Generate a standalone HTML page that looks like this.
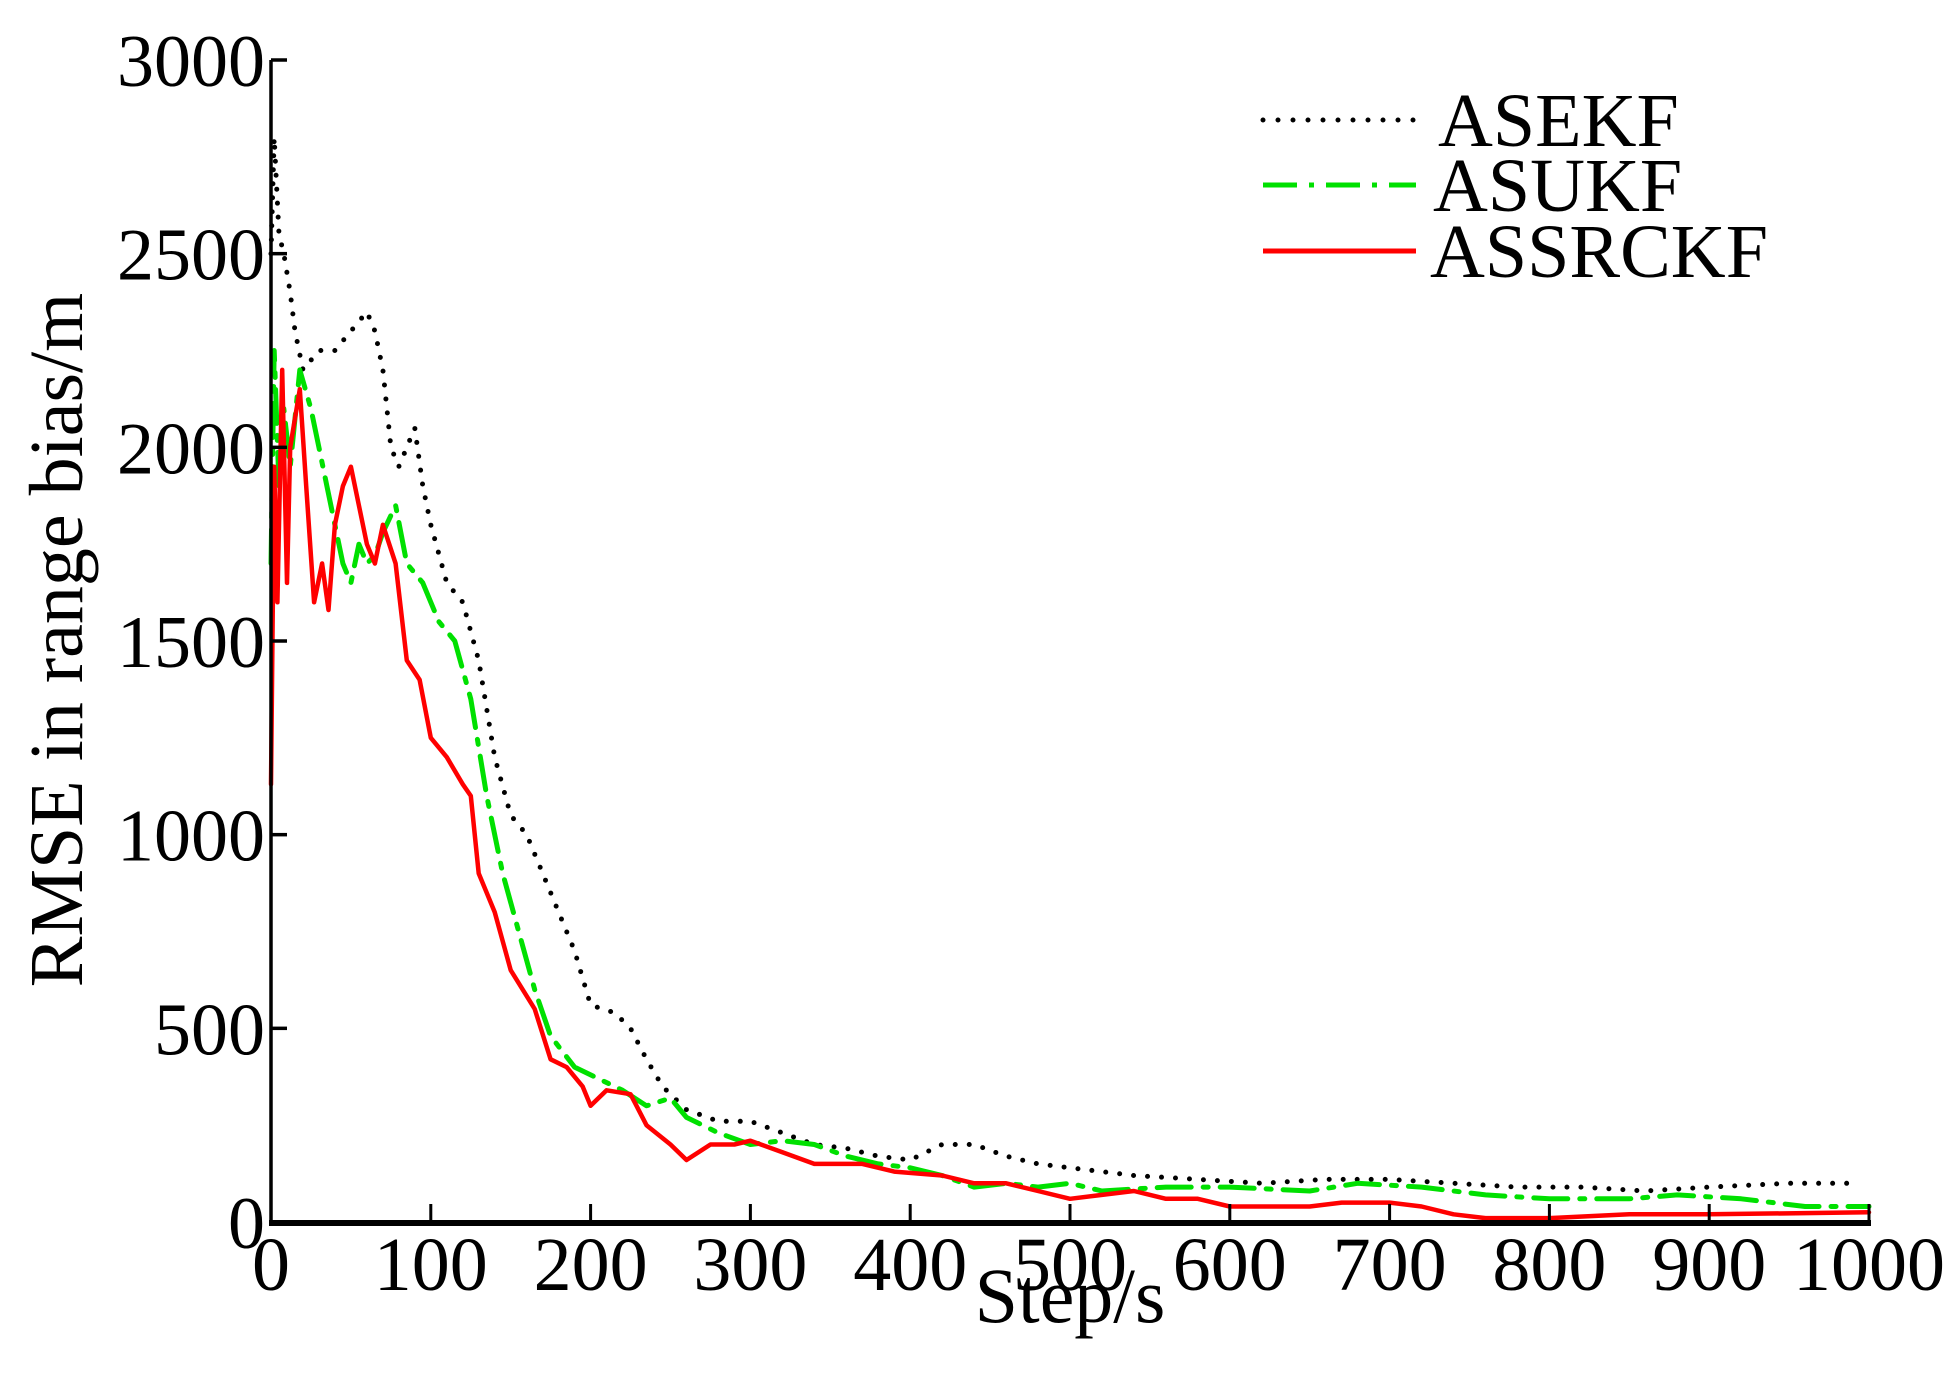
<!DOCTYPE html>
<html><head><meta charset="utf-8"><style>
html,body{margin:0;padding:0;background:#fff;}
svg{display:block;font-family:"Liberation Serif",serif;}
</style></head><body>
<svg id="chart" width="1948" height="1376" viewBox="0 0 1948 1376" xmlns="http://www.w3.org/2000/svg">
<g id="series"></g>
<g id="axes"></g>
<text transform="translate(82,640) rotate(-90)" text-anchor="middle" font-size="76">RMSE in range bias/m</text>
<text x="1070" y="1322" text-anchor="middle" font-size="78">Step/s</text>
<g>
<line x1="1263" y1="120" x2="1416" y2="120" stroke="#000" stroke-width="5" stroke-linecap="round" stroke-dasharray="0 15"/>
<text x="1438" y="146" font-size="76">ASEKF</text>
<line x1="1263" y1="185" x2="1416" y2="185" stroke="#00e000" stroke-width="5" stroke-dasharray="34 12 5 12"/>
<text x="1433" y="211" font-size="76">ASUKF</text>
<line x1="1263" y1="251" x2="1416" y2="251" stroke="#ff0000" stroke-width="5"/>
<text x="1430" y="277" font-size="76">ASSRCKF</text>
</g>
</svg>
<script>
const redSteps=[0,2,4,7,10,12,18,22,27,32,36,40,45,50,55,60,65,70,78,85,93,100,110,120,125,130,140,150,165,175,185,195,200,210,225,235,250,260,275,290,300,320,340,370,390,420,440,460,480,500,520,540,560,580,600,650,670,700,720,740,760,800,850,900,1000];
const redVals=[1130,1950,1600,2200,1650,2000,2150,1900,1600,1700,1580,1800,1900,1950,1850,1750,1700,1800,1700,1450,1400,1250,1200,1130,1100,900,800,650,550,420,400,350,300,340,330,250,200,160,200,200,210,180,150,150,130,120,100,100,80,60,70,80,60,60,40,40,50,50,40,20,10,10,20,20,25];
const greenSteps=[0,2,5,8,12,18,25,30,35,40,45,50,55,60,65,70,78,85,95,105,115,125,135,145,155,165,175,190,205,220,235,250,260,280,300,320,340,360,380,400,420,440,460,480,500,520,560,600,650,680,720,760,800,850,880,920,960,1000];
const greenVals=[1700,2250,1900,2100,1950,2200,2100,2000,1900,1800,1700,1650,1750,1700,1720,1780,1850,1700,1650,1550,1500,1350,1100,900,750,600,480,400,370,340,300,320,270,230,200,210,200,170,150,140,120,90,100,90,100,80,90,90,80,100,90,70,60,60,70,60,40,40];
const blackSteps=[0,2,5,8,12,15,20,30,40,50,60,65,70,75,80,85,90,95,100,110,120,130,140,150,160,170,180,190,200,215,225,235,245,260,280,300,320,340,360,380,400,420,440,460,480,500,540,580,620,660,700,740,780,820,860,900,950,990];
const blackVals=[2500,2800,2550,2500,2400,2300,2200,2250,2250,2300,2350,2300,2200,2000,1950,2000,2050,1900,1800,1650,1600,1450,1200,1050,1000,900,800,700,560,540,500,420,350,290,260,260,230,200,190,170,160,200,200,170,150,140,120,110,100,110,110,100,90,90,80,90,100,100];
const xTicks=[0,100,200,300,400,500,600,700,800,900,1000];
const yTicks=[0,500,1000,1500,2000,2500,3000];

const NS='http://www.w3.org/2000/svg';
const X0=271,X1=1869,Y0=1222,Y1=60;
function sx(v){return X0+(v/1000)*(X1-X0);}
function sy(v){return Y0-(v/3000)*(Y0-Y1);}
function mk(tag,attrs,parent){const e=document.createElementNS(NS,tag);for(const k in attrs)e.setAttribute(k,attrs[k]);parent.appendChild(e);return e;}
const series=document.getElementById('series');
const axes=document.getElementById('axes');
function line(steps,vals,name,stroke,dash,w){
  const d=steps.map((s,i)=>(i?'L':'M')+sx(s).toFixed(1)+','+sy(vals[i]).toFixed(1)).join(' ');
  const p=mk('path',{d:d,fill:'none',stroke:stroke,'stroke-width':w,'stroke-linejoin':'round','stroke-linecap':'round'},series);
  if(dash)p.setAttribute('stroke-dasharray',dash);
  
  
}
line(blackSteps,blackVals,'asekf-line','#000','0 14',5);
line(greenSteps,greenVals,'asukf-line','#00e000','34 12 5 12',5);
line(redSteps,redVals,'assrckf-line','#ff0000',null,4.5);

const ya=mk('line',{x1:X0,y1:Y1,x2:X0,y2:Y0+3,stroke:'#000','stroke-width':3.5},axes);


const xa=mk('line',{x1:X0-2,y1:Y0+1,x2:X1+2,y2:Y0+1,stroke:'#000','stroke-width':6},axes);


yTicks.forEach(t=>{
  const l=mk('line',{x1:X0,y1:sy(t),x2:X0+16,y2:sy(t),stroke:'#000','stroke-width':3.5},axes);
  
  
  const tx=mk('text',{x:X0-6,y:sy(t)+26,'text-anchor':'end','font-size':74},axes);
  tx.textContent=t;
  
  
});
xTicks.forEach(t=>{
  const l=mk('line',{x1:sx(t),y1:Y0,x2:sx(t),y2:Y0-18,stroke:'#000','stroke-width':3},axes);
  
  
  const tx=mk('text',{x:sx(t),y:1290,'text-anchor':'middle','font-size':76},axes);
  tx.textContent=t;
  
  
});
</script>
</body></html>
